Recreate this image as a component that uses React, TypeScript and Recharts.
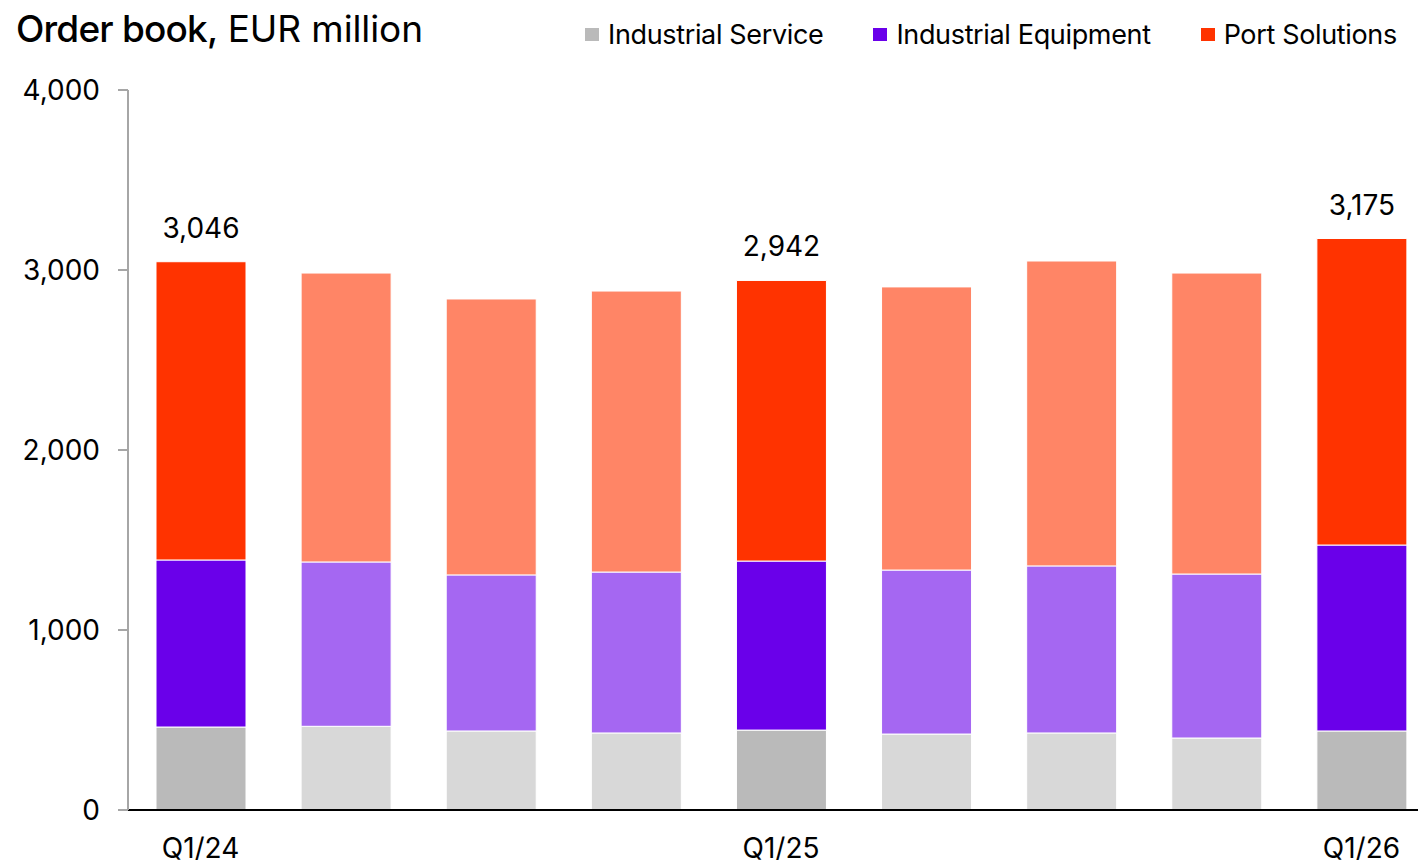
import React from 'react'
import {
  BarChart,
  Bar,
  Cell,
  XAxis,
  YAxis,
  Legend,
  LabelList,
} from 'recharts'

const quarters = ['Q1/24', 'Q2/24', 'Q3/24', 'Q4/24', 'Q1/25', 'Q2/25', 'Q3/25', 'Q4/25', 'Q1/26']
const industrialService = [461, 465, 439, 428, 444, 422, 428, 400, 439]
const industrialEquipment = [928, 913, 867, 894, 939, 911, 928, 911, 1033]
const portSolutions = [1657, 1605, 1533, 1561, 1559, 1573, 1694, 1672, 1703]
const totalLabels = ['3,046', '', '', '', '2,942', '', '', '', '3,175']
const shownTicks = ['Q1/24', 'Q1/25', 'Q1/26']
const yTicks = [0, 1000, 2000, 3000, 4000]

const FONT = 'Inter, "Noto Sans", sans-serif'

// highlighted (Q1) bars use the strong colour, the rest the pale one
const SERIES = [
  { key: 'service', name: 'Industrial Service', strong: '#BABABA', pale: '#D8D8D8' },
  { key: 'equipment', name: 'Industrial Equipment', strong: '#6A00EA', pale: '#A567F2' },
  { key: 'port', name: 'Port Solutions', strong: '#FF3300', pale: '#FF8566' },
]

const data = quarters.map((q, i) => ({
  name: q,
  service: industrialService[i],
  equipment: industrialEquipment[i],
  port: portSolutions[i],
  label: totalLabels[i],
}))

const isStrong = (name: string) => shownTicks.includes(name)

function LegendContent() {
  return (
    <div style={{ display: 'flex', fontFamily: FONT, fontSize: 27, color: '#000', letterSpacing: -0.35, whiteSpace: 'nowrap' }}>
      {SERIES.map((s) => (
        <div key={s.key} style={{ display: 'flex', alignItems: 'center', marginLeft: 50 }}>
          <span style={{ display: 'inline-block', width: 14, height: 13, background: s.strong, marginRight: 9 }} />
          <span>{s.name}</span>
        </div>
      ))}
    </div>
  )
}

function TopLabel(props: any) {
  const { x, y, width, value } = props
  if (!value) return null
  return (
    <text x={x + width / 2} y={y - 24} textAnchor="middle" fontSize={28} fontFamily={FONT} fill="#000">
      {value}
    </text>
  )
}

export default function App() {
  return (
    <div style={{ position: 'absolute', left: 0, top: 0, width: 1418, height: 860, overflow: 'hidden', background: '#fff' }}>
      <div
        style={{
          position: 'absolute',
          left: 16,
          top: 7,
          fontFamily: FONT,
          fontSize: 37,
          lineHeight: '44px',
          letterSpacing: -0.1,
          color: '#000',
          whiteSpace: 'nowrap',
        }}
      >
        <span style={{ fontWeight: 500, letterSpacing: -0.8 }}>Order book,</span> EUR million
      </div>
      <BarChart
        width={1434}
        height={860}
        data={data}
        margin={{ top: 90, right: 0, bottom: 0, left: 0 }}
        barSize={90}
      >
        <XAxis
          dataKey="name"
          height={50}
          tickLine={false}
          tickSize={0}
          tickMargin={28}
          axisLine={{ stroke: '#000', strokeWidth: 2 }}
          interval={0}
          tickFormatter={(v: string) => (shownTicks.includes(v) ? v : '')}
          tick={{ fontSize: 28, fontFamily: FONT, fill: '#000' }}
        />
        <YAxis
          width={128}
          domain={[0, 4000]}
          ticks={yTicks}
          tickSize={10}
          tickMargin={18}
          axisLine={{ stroke: '#A6A6A6', strokeWidth: 2 }}
          tickLine={{ stroke: '#A6A6A6', strokeWidth: 2 }}
          tickFormatter={(v: number) => v.toLocaleString('en-US')}
          tick={{ fontSize: 28, fontFamily: FONT, fill: '#000' }}
        />
        <Legend
          layout="horizontal"
          verticalAlign="middle"
          align="center"
          content={<LegendContent />}
          wrapperStyle={{ position: 'absolute', top: 18, left: 535, width: 'auto' }}
        />
        {SERIES.map((s) => (
          <Bar
            key={s.key}
            dataKey={s.key}
            name={s.name}
            stackId="a"
            stroke="#fff"
            strokeWidth={1}
            isAnimationActive={false}
          >
            {data.map((d, i) => (
              <Cell key={`c-${s.key}-${i}`} fill={isStrong(d.name) ? s.strong : s.pale} />
            ))}
            {s.key === 'port' && <LabelList dataKey="label" content={<TopLabel />} />}
          </Bar>
        ))}
      </BarChart>
    </div>
  )
}
